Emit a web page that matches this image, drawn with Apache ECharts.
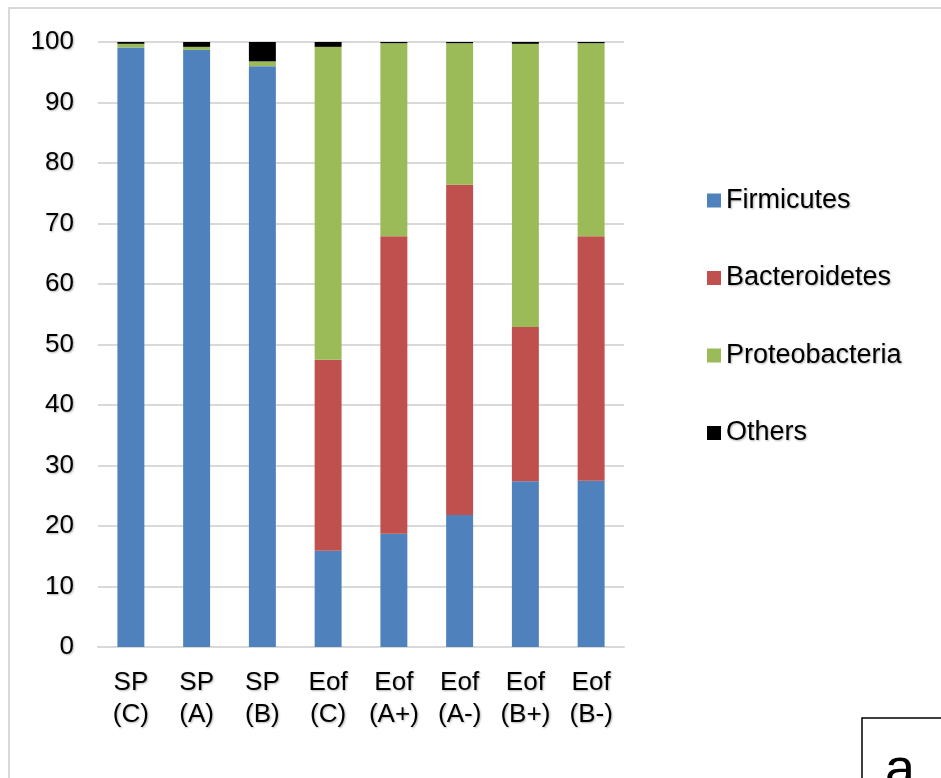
<!DOCTYPE html>
<html><head><meta charset="utf-8">
<script src="https://cdn.jsdelivr.net/npm/echarts@6/dist/echarts.min.js"></script>
<style>html,body{margin:0;padding:0;background:#fff}#c{width:941px;height:778px}</style>
</head><body><div id="c"></div>
<script>
var categories = ['SP\n(C)','SP\n(A)','SP\n(B)','Eof\n(C)','Eof\n(A+)','Eof\n(A-)','Eof\n(B+)','Eof\n(B-)'];
var firmicutes = [99.1, 98.7, 96.0, 15.9, 18.7, 21.8, 27.4, 27.5];
var bacteroidetes = [0, 0, 0, 31.6, 49.2, 54.6, 25.5, 40.4];
var proteobacteria = [0.6, 0.5, 0.8, 51.7, 31.9, 23.4, 46.8, 31.9];
var others = [0.3, 0.8, 3.2, 0.8, 0.2, 0.2, 0.3, 0.2];
var yTicks = [0, 100, 10];
var panelLabel = 'a';

var font = 'Liberation Sans, Arial, sans-serif';
var shadow = {textShadowColor:'rgba(0,0,0,0.3)', textShadowBlur:2, textShadowOffsetX:1, textShadowOffsetY:1};
var chart = echarts.init(document.getElementById('c'));
function s(name, data, color){
  return {name:name, type:'bar', stack:'t', data:data, barWidth:'41%',
    itemStyle:{color:color}, emphasis:{disabled:true}};
}
chart.setOption({
  animation:false,
  textStyle:{fontFamily:font},
  grid:{left:98, right:317, top:42, bottom:131},
  xAxis:{type:'category', data:categories,
    axisLine:{lineStyle:{color:'#d9d9d9', width:2}}, axisTick:{show:false},
    axisLabel:Object.assign({color:'#000', fontSize:26, lineHeight:32, margin:20, fontFamily:font}, shadow)},
  yAxis:{type:'value', min:yTicks[0], max:yTicks[1], interval:yTicks[2],
    axisLine:{show:false}, axisTick:{show:false},
    splitLine:{lineStyle:{color:'#d9d9d9', width:2}},
    axisLabel:Object.assign({color:'#000', fontSize:26, margin:24, fontFamily:font}, shadow)},
  legend:{orient:'vertical', left:702, top:182, itemGap:50.5, itemWidth:14, itemHeight:14,
    icon:'rect', textStyle:Object.assign({fontSize:27, color:'#000', fontFamily:font}, shadow),
    data:['Firmicutes','Bacteroidetes','Proteobacteria','Others']},
  series:[
    s('Firmicutes', firmicutes, '#4F81BD'),
    s('Bacteroidetes', bacteroidetes, '#C0504D'),
    s('Proteobacteria', proteobacteria, '#9BBB59'),
    s('Others', others, '#000000')
  ],
  graphic:[
    {type:'rect', shape:{x:9, y:8, width:1000, height:1000}, style:{fill:'none', stroke:'#d9d9d9', lineWidth:2}, silent:true},
    {type:'rect', shape:{x:862, y:718, width:120, height:100}, style:{fill:'#fff', stroke:'#000', lineWidth:1.5}, silent:true, z:10},
    {type:'text', x:885, y:744, z:11, style:{text:panelLabel, font:'54px '+font, fill:'#000', verticalAlign:'top'}, silent:true}
  ]
});
</script></body></html>
